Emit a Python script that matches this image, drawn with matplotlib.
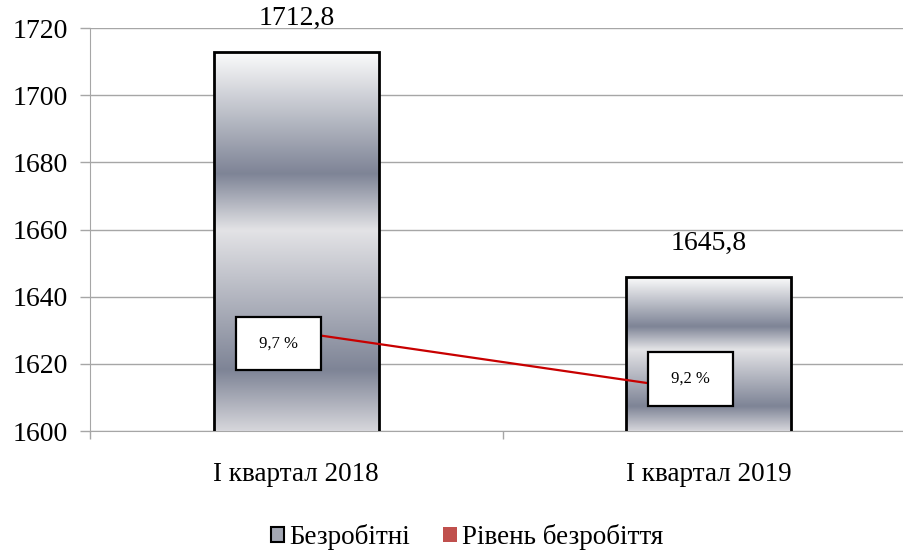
import numpy as np
import matplotlib
matplotlib.use('Agg')
import matplotlib.pyplot as plt
from matplotlib.colors import LinearSegmentedColormap
from matplotlib.patches import Patch

plt.rcParams['font.family'] = ['Liberation Serif', 'DejaVu Serif']

categories = ['І квартал 2018', 'І квартал 2019']
unemployed = [1712.8, 1645.8]
rate = [9.7, 9.2]
unemployed_labels = ['1712,8', '1645,8']
rate_labels = ['9,7 %', '9,2 %']

fig = plt.figure(figsize=(9.04, 5.53), dpi=100)
ax = fig.add_axes([90 / 904, 122 / 553, 825 / 904, 403 / 553])

x = np.arange(len(categories))
grid_c = '#a6a6a6'

# metallic gradient (top -> bottom)
cmap = LinearSegmentedColormap.from_list('metal', [
    (0.0, '#fbfbfb'), (0.32, '#7e8496'), (0.47, '#e3e3e6'),
    (0.84, '#7e8496'), (1.0, '#d6d6db')])
grad = np.linspace(0, 1, 256).reshape(-1, 1)

bars = ax.bar(x, unemployed, width=0.4, bottom=0, facecolor='none',
              edgecolor='black', linewidth=2, zorder=4)
for b in bars:
    x0, w, h = b.get_x(), b.get_width(), b.get_height()
    im = ax.imshow(grad, cmap=cmap, aspect='auto', extent=(x0, x0 + w, 1600, h),
                   zorder=3, interpolation='bilinear')
    im.set_clip_path(b)

for xi, v, lab in zip(x, unemployed, unemployed_labels):
    ax.annotate(lab, (xi, v), xytext=(0, 24), textcoords='offset points',
                ha='center', va='center', fontsize=20)

ax.set_xlim(-0.5, 1.5)
ax.set_ylim(1600, 1720)
ax.set_yticks(np.arange(1600, 1721, 20))
ax.yaxis.grid(True, color=grid_c, linewidth=1)
ax.set_axisbelow(True)
ax.set_xticks([-0.5, 0.5, 1.5])
ax.set_xticklabels([])
ax.set_xticks(x, minor=True)
ax.set_xticklabels(categories, minor=True, fontsize=19.5)
ax.tick_params(axis='x', which='major', length=6, color=grid_c, width=1)
ax.tick_params(axis='x', which='minor', length=0, pad=22)
ax.tick_params(axis='y', length=7, color=grid_c, width=1, labelsize=20, pad=9)
for s in ['top', 'right']:
    ax.spines[s].set_visible(False)
for s in ['left', 'bottom']:
    ax.spines[s].set_color(grid_c)

ax2 = ax.twinx()
ax2.set_ylim(8.875, 12.233)
ax2.axis('off')
ax2.plot(x, rate, color='#c80000', linewidth=1.6, zorder=5)
offsets = [(-12.6, -8.3), (-13, 9.4)]
for xi, v, lab, off in zip(x, rate, rate_labels, offsets):
    ax2.annotate(' ' + lab + ' ', (xi, v), xytext=off, textcoords='offset points',
                 ha='center', va='center', fontsize=12, zorder=6,
                 bbox=dict(boxstyle='square,pad=1.13', facecolor='white',
                           edgecolor='black', linewidth=1.6))

handles = [Patch(facecolor='#a4a8b4', edgecolor='black', linewidth=1.5),
           Patch(facecolor='#c0504d', edgecolor='none')]
fig.legend(handles, ['Безробітні', 'Рівень безробіття'], loc='center',
           bbox_to_anchor=(467 / 904, 1 - 537 / 553), ncol=2, frameon=False,
           fontsize=19.5, handlelength=0.5, handleheight=0.5, handletextpad=0.2,
           columnspacing=1.2)

fig.savefig('out.png', dpi=100)
